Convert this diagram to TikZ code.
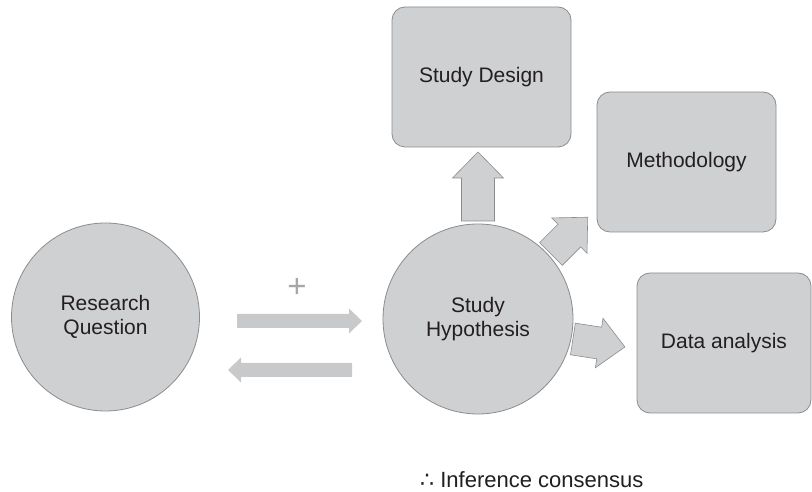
\documentclass[tikz,border=0pt]{standalone}
\usepackage{fontspec}
\setmainfont{Liberation Sans}
\newfontfamily\symfont{DejaVu Sans}
\usetikzlibrary{calc}

\definecolor{shapefill}{RGB}{207,208,210}
\definecolor{shapeline}{RGB}{140,140,142}
\definecolor{linkfill}{RGB}{200,201,203}
\definecolor{labeltext}{RGB}{35,31,32}
\definecolor{plusgray}{RGB}{165,167,170}

% block arrow: style, start point, angle, length, shaft half-width, head half-width, head length
\newcommand\blockarrow[7]{%
  \begin{scope}[shift={#2}, rotate=#3]
    \path[#1] (0,-#5) -- ({#4-#7},-#5) -- ({#4-#7},-#6) -- (#4,0)
      -- ({#4-#7},#6) -- ({#4-#7},#5) -- (0,#5) -- cycle;
  \end{scope}}

\begin{document}
\begin{tikzpicture}[
  x=1pt, y=1pt,
  font=\fontsize{21}{24}\selectfont,
  disc/.style={circle, draw=shapeline, fill=shapefill, line width=0.8pt,
    inner sep=0pt, text=labeltext, align=center},
  card/.style={rectangle, rounded corners=13pt, draw=shapeline, fill=shapefill,
    line width=0.8pt, minimum width=179pt, minimum height=140pt,
    text=labeltext, align=center},
  outarrow/.style={draw=shapeline, fill=shapefill, line width=0.6pt, line join=miter},
  linkarrow/.style={fill=linkfill}
]
\fill[white] (0,0) rectangle (812,492);
\useasboundingbox (0,0) rectangle (812,492);

% main concepts
\node[disc, minimum size=188pt] (rq) at (105.5,175) {Research\\Question};
\node[disc, minimum size=190pt] (hyp) at (478,173) {Study\\Hypothesis};

% outcomes of the hypothesis
\node[card] (design) at (481.5,415) {Study Design};
\node[card] (method) at (686.5,330) {Methodology};
\node[card, minimum width=174pt] (data) at (724,149) {Data analysis};

% two-way link between question and hypothesis
\coordinate (fwd) at ($(rq.center)+(131.5,-4)$);
\coordinate (back) at ($(hyp.center)+(-126,-51)$);
\blockarrow{linkarrow}{(fwd)}{0}{125}{7}{12.5}{13}
\blockarrow{linkarrow}{(back)}{180}{124}{7}{12.5}{13}
\node[text=plusgray, inner sep=0pt, font=\fontsize{33}{33}\selectfont] (plus) at (297,204) {+};

% arrows from the hypothesis
\blockarrow{outarrow}{($(hyp.center)+(90:98)$)}{90}{69}{16.5}{25.5}{26}
\blockarrow{outarrow}{($(hyp.center)+(41.7:97.7)$)}{45}{52}{16}{25}{26}
\blockarrow{outarrow}{($(hyp.center)+(-11.9:97)$)}{-8.7}{52.6}{16}{25}{26}

% conclusion
\node[anchor=base west, inner sep=0pt, text=labeltext,
  font=\fontsize{22}{24}\selectfont] (concl) at (420,4)
  {{\symfont ∴} Inference consensus};
\end{tikzpicture}
\end{document}
